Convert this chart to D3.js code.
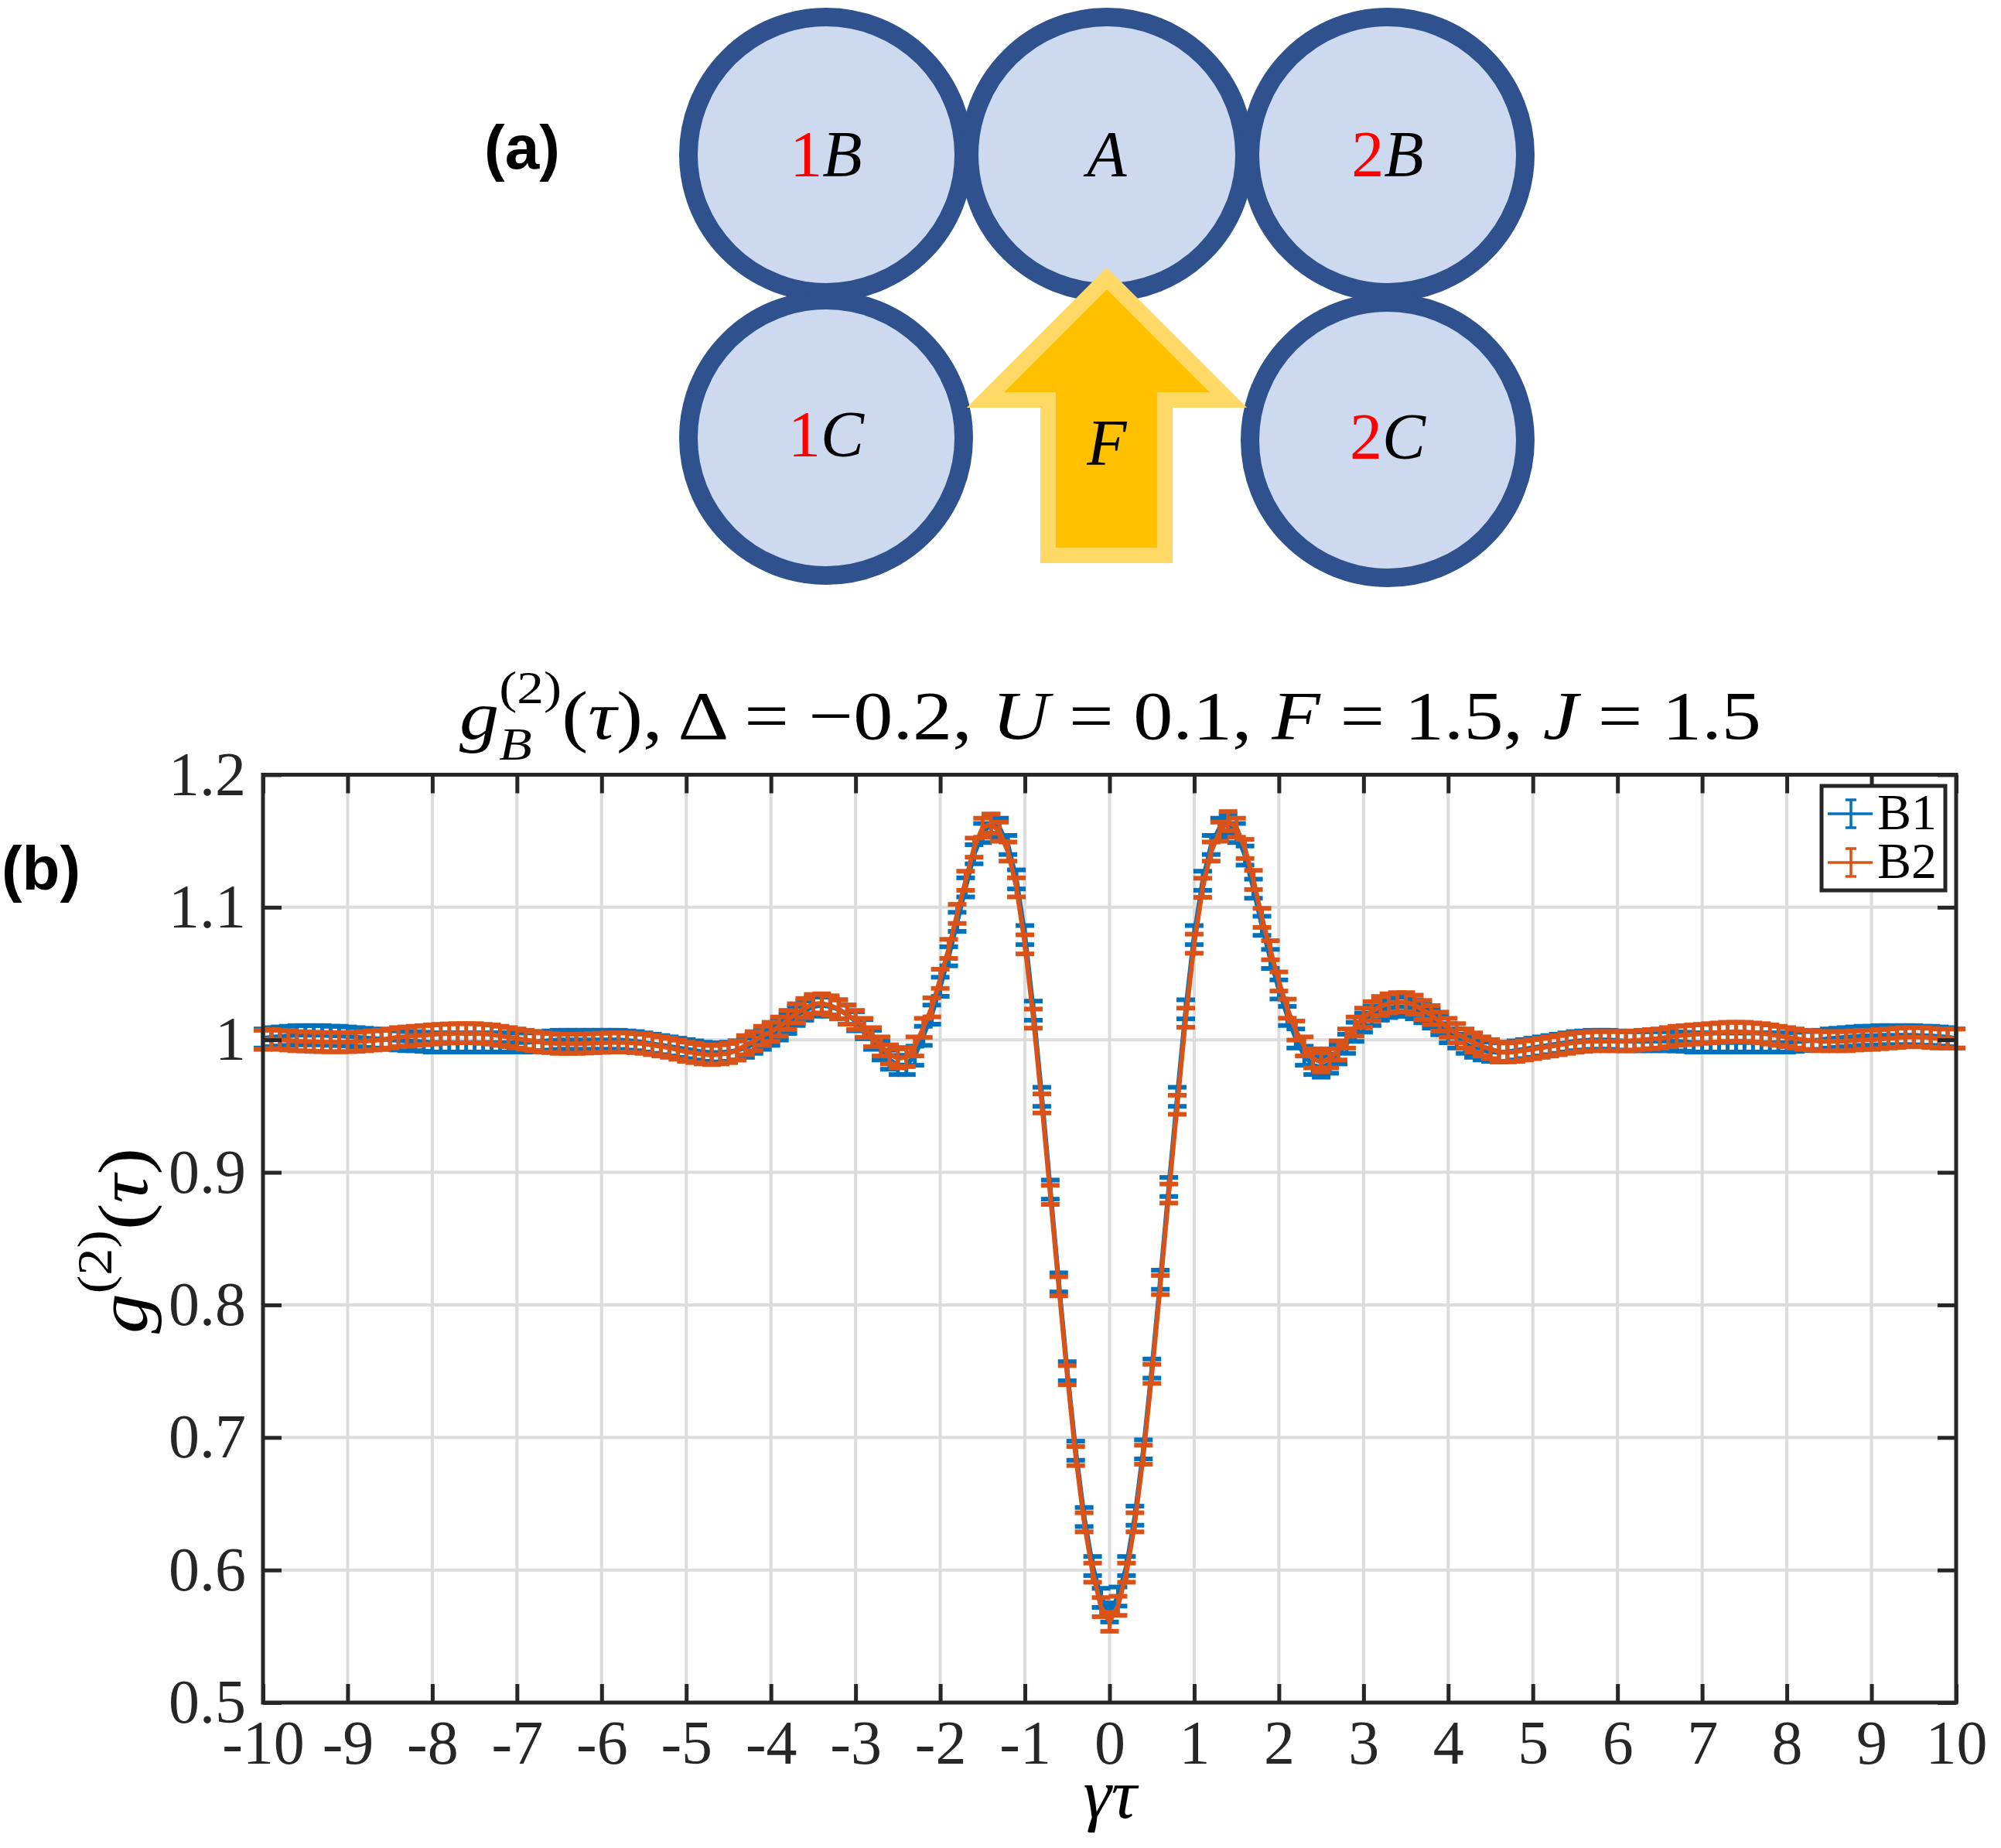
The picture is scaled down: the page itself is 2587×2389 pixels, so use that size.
<!DOCTYPE html>
<html><head><meta charset="utf-8">
<script src="https://cdn.jsdelivr.net/npm/d3@7"></script>
<style>html,body{margin:0;padding:0;background:#fff;} svg{display:block;}</style>
</head><body>
<svg id="fig" width="2587" height="2389"></svg>
<script>
// ---------------- data ----------------
const tauValues = d3.range(-100, 101).map(i => i / 10); // γτ from -10 to 10, step 0.1

const b1Values = [
  1.001, 1.002, 1.0025, 1.003, 1.0035, 1.0035, 1.0035, 1.0035, 1.003, 1.003,
  1.0025, 1.002, 1.0015, 1.001, 1.0005, 1.000, 0.9995, 0.999, 0.999, 0.9985,
  0.998, 0.998, 0.998, 0.998, 0.998, 0.998, 0.998, 0.998, 0.998, 0.998,
  0.998, 0.998, 0.9985, 0.999, 0.9995, 1.000, 1.000, 1.000, 1.000, 1.000,
  1.000, 1.000, 1.000, 0.9995, 0.999, 0.998, 0.997, 0.996, 0.995, 0.994,
  0.993, 0.992, 0.991, 0.9905, 0.9905, 0.991, 0.992, 0.994, 0.997, 1.000,
  1.003, 1.007, 1.012, 1.018, 1.022, 1.025, 1.026, 1.025, 1.023, 1.019,
  1.014, 1.008, 1.000, 0.992, 0.985, 0.981, 0.981, 0.988, 1.003, 1.019,
  1.040, 1.063, 1.089, 1.115, 1.140, 1.156, 1.163, 1.160, 1.147, 1.121,
  1.079, 1.022, 0.957, 0.887, 0.817, 0.750, 0.690, 0.640, 0.603, 0.579,
  0.568,
  0.580, 0.603, 0.641, 0.691, 0.752, 0.819, 0.889, 0.957, 1.023, 1.079,
  1.120, 1.147, 1.160, 1.163, 1.156, 1.139, 1.114, 1.086, 1.061, 1.038,
  1.018, 1.001, 0.988, 0.981, 0.979, 0.982, 0.989, 0.997, 1.006, 1.013,
  1.018, 1.022, 1.024, 1.025, 1.025, 1.023, 1.020, 1.016, 1.011, 1.005,
  1.001, 0.997, 0.994, 0.992, 0.991, 0.9905, 0.991, 0.992, 0.993, 0.994,
  0.995, 0.996, 0.997, 0.998, 0.999, 0.9995, 1.000, 1.000, 1.000, 0.9995,
  0.999, 0.999, 0.999, 0.999, 0.999, 0.999, 0.9988, 0.9985, 0.998, 0.998,
  0.998, 0.998, 0.998, 0.998, 0.998, 0.998, 0.998, 0.998, 0.998, 0.998,
  0.9985, 0.999, 0.9995, 1.000, 1.001, 1.0015, 1.002, 1.0025, 1.003, 1.003,
  1.0035, 1.0035, 1.0035, 1.0035, 1.0035, 1.003, 1.003, 1.0025, 1.002, 1.001
];

const b2Values = [
  1.000, 1.0005, 1.000, 0.9995, 0.999, 0.9988, 0.9985, 0.9983, 0.9982, 0.9982,
  0.9983, 0.9985, 0.999, 0.9995, 1.000, 1.001, 1.002, 1.0025, 1.003, 1.0035,
  1.004, 1.0045, 1.0048, 1.005, 1.005, 1.005, 1.0045, 1.004, 1.003, 1.002,
  1.001, 1.000, 0.999, 0.998, 0.9975, 0.997, 0.997, 0.997, 0.9972, 0.9975,
  0.9978, 0.998, 0.998, 0.998, 0.9975, 0.997, 0.996, 0.995, 0.994, 0.9925,
  0.991, 0.990, 0.989, 0.9885, 0.989, 0.990, 0.992, 0.996, 0.999, 1.003,
  1.006, 1.010, 1.015, 1.020, 1.024, 1.027, 1.0275, 1.026, 1.023, 1.019,
  1.015, 1.009, 1.002, 0.995, 0.989, 0.986, 0.987, 0.995, 1.009, 1.0245,
  1.046, 1.0686, 1.095, 1.120, 1.145, 1.160, 1.163, 1.157, 1.142, 1.115,
  1.072, 1.016, 0.952, 0.883, 0.814, 0.747, 0.686, 0.636, 0.598, 0.572,
  0.561,
  0.573, 0.598, 0.636, 0.687, 0.748, 0.815, 0.884, 0.951, 1.0167, 1.0725,
  1.1147, 1.142, 1.157, 1.165, 1.160, 1.144, 1.1206, 1.092, 1.0676, 1.044,
  1.0235, 1.007, 0.995, 0.986, 0.983, 0.986, 0.992, 1.001, 1.010, 1.0167,
  1.0216, 1.0255, 1.0275, 1.0284, 1.0284, 1.0265, 1.0225, 1.0186, 1.0137, 1.009,
  1.005, 1.001, 0.998, 0.995, 0.993, 0.991, 0.9905, 0.991, 0.992, 0.993,
  0.994, 0.995, 0.996, 0.997, 0.998, 0.9985, 0.999, 0.999, 0.999, 0.999,
  0.999, 0.9995, 1.000, 1.0005, 1.001, 1.002, 1.003, 1.0035, 1.004, 1.0045,
  1.005, 1.0055, 1.006, 1.006, 1.006, 1.0055, 1.005, 1.004, 1.003, 1.002,
  1.001, 1.000, 0.9995, 0.999, 0.999, 0.999, 0.999, 0.9995, 1.000, 1.000,
  1.0005, 1.001, 1.0015, 1.002, 1.002, 1.002, 1.0015, 1.001, 1.001, 1.001
];

const errB1 = 0.0072;   // error-bar half height
const errB2 = 0.0072;

const seriesNames = ["B1", "B2"];
const seriesColors = ["#0072BD", "#D95319"];

const xTickValues = d3.range(-10, 11);
const xTickLabels = xTickValues.map(String);
const yTickValues = [0.5, 0.6, 0.7, 0.8, 0.9, 1.0, 1.1, 1.2];
const yTickLabels = ["0.5", "0.6", "0.7", "0.8", "0.9", "1", "1.1", "1.2"];

const cavityPrefixes = ["1", "", "2", "1", "2"];
const cavityLetters  = ["B", "A", "B", "C", "C"];

// ---------------- layout ----------------
const svg = d3.select("#fig");
svg.append("rect").attr("width", 2587).attr("height", 2389).attr("fill", "#fff");

const SERIF = "'Liberation Serif', 'Times New Roman', serif";
const PL = 340, PR = 2529, PT = 1001.5, PB = 2201;
const x = d3.scaleLinear().domain([-10, 10]).range([PL, PR]);
const y = d3.scaleLinear().domain([0.5, 1.2]).range([PB, PT]);

// ---------- panel (a) diagram ----------
const diag = svg.append("g");
const cavityPos = [[1068, 200], [1431, 200], [1794, 200], [1068, 566], [1794, 569]];
const labelBase = [228, 228, 228, 590, 593];
const R = 178;
cavityPos.forEach(([cx, cy]) => {
  diag.append("circle").attr("cx", cx).attr("cy", cy).attr("r", R)
    .attr("fill", "#CDD9EF").attr("stroke", "#2F528F").attr("stroke-width", 24);
});
// pump arrow F
const arrowPts = [[1431, 360], [1588, 517], [1506, 517], [1506, 718], [1355, 718], [1355, 517], [1274, 517]];
diag.append("polygon").attr("points", arrowPts.map(p => p.join(",")).join(" "))
  .attr("fill", "#FFC000").attr("stroke", "#FFD966").attr("stroke-width", 20)
  .attr("stroke-linejoin", "miter");
cavityPos.forEach(([cx, cy], i) => {
  const t = diag.append("text").attr("x", cx).attr("y", labelBase[i])
    .attr("text-anchor", "middle").style("font-family", SERIF).style("font-size", "84px");
  if (cavityPrefixes[i]) t.append("tspan").attr("fill", "#FF0000").text(cavityPrefixes[i]);
  t.append("tspan").attr("fill", "#000").style("font-style", "italic").text(cavityLetters[i]);
});
diag.append("text").attr("x", 1431).attr("y", 601).attr("text-anchor", "middle")
  .style("font-family", SERIF).style("font-size", "84px").style("font-style", "italic").text("F");

// panel labels
svg.append("text").attr("x", 675).attr("y", 218).attr("text-anchor", "middle")
  .style("font-family", "'Liberation Sans', Arial, sans-serif").style("font-weight", "bold")
  .style("font-size", "80px").text("(a)");
svg.append("text").attr("x", 53).attr("y", 1150).attr("text-anchor", "middle")
  .style("font-family", "'Liberation Sans', Arial, sans-serif").style("font-weight", "bold")
  .style("font-size", "80px").text("(b)");

// ---------- math text helper ----------
function mathRow(g, pieces, fs) {
  let cx = 0, stackStart = 0, stackW = 0;
  pieces.forEach(p => {
    const size = fs * (p.s || 1);
    const t = g.append("text").attr("y", (p.dy || 0) * fs)
      .style("font-family", SERIF).style("font-size", size + "px")
      .style("font-style", p.it ? "italic" : "normal").attr("fill", "#000")
      .style("white-space", "pre").text(p.t);
    const w = t.node().getComputedTextLength();
    if (p.stack === "start") { stackStart = cx; stackW = w; t.attr("x", cx); cx += w; }
    else if (p.stack === "end") { t.attr("x", stackStart); cx = stackStart + Math.max(stackW, w); }
    else { t.attr("x", cx); cx += w; }
  });
  return cx;
}

// ---------- grid ----------
const grid = svg.append("g");
xTickValues.filter(v => v > -10 && v < 10).forEach(v => {
  grid.append("line").attr("x1", x(v)).attr("x2", x(v)).attr("y1", PT).attr("y2", PB)
    .attr("stroke", "#DCDCDC").attr("stroke-width", 4);
});
yTickValues.filter(v => v > 0.5 && v < 1.2).forEach(v => {
  grid.append("line").attr("x1", PL).attr("x2", PR).attr("y1", y(v)).attr("y2", y(v))
    .attr("stroke", "#DCDCDC").attr("stroke-width", 4);
});

// ---------- data ----------
const plot = svg.append("g");
const series = [
  {name: seriesNames[0], vals: b1Values, err: errB1, color: seriesColors[0]},
  {name: seriesNames[1], vals: b2Values, err: errB2, color: seriesColors[1]}
];
const capW = 24;
const line = d3.line().x(d => x(d[0])).y(d => y(d[1]));
series.forEach(s => {
  const pts = tauValues.map((t, i) => [t, s.vals[i]]);
  const g = plot.append("g");
  g.append("path").attr("d", line(pts)).attr("fill", "none")
    .attr("stroke", s.color).attr("stroke-width", 6).attr("stroke-linejoin", "round");
  const eb = g.selectAll("g.eb").data(pts).join("g");
  eb.append("line").attr("x1", d => x(d[0])).attr("x2", d => x(d[0]))
    .attr("y1", d => y(d[1] - s.err)).attr("y2", d => y(d[1] + s.err))
    .attr("stroke", s.color).attr("stroke-width", 5);
  [-1, 1].forEach(sg => {
    eb.append("line").attr("x1", d => x(d[0]) - capW / 2).attr("x2", d => x(d[0]) + capW / 2)
      .attr("y1", d => y(d[1] + sg * s.err)).attr("y2", d => y(d[1] + sg * s.err))
      .attr("stroke", s.color).attr("stroke-width", 6);
  });
});

// ---------- axes ----------
const axisColor = "#262626";
function styleAxis(g) {
  g.select(".domain").remove();
  g.selectAll(".tick line").attr("stroke", axisColor).attr("stroke-width", 5);
  g.selectAll(".tick text").style("font-family", SERIF).style("font-size", "80px").attr("fill", axisColor);
}
svg.append("g").attr("transform", `translate(0,${PB})`)
  .call(d3.axisBottom(x).tickValues(xTickValues).tickFormat((d, i) => xTickLabels[i])
    .tickSizeInner(-24).tickSizeOuter(0).tickPadding(22)).call(styleAxis);
svg.append("g").attr("transform", `translate(0,${PT})`)
  .call(d3.axisTop(x).tickValues(xTickValues).tickFormat("").tickSizeInner(-24).tickSizeOuter(0)).call(styleAxis);
svg.append("g").attr("transform", `translate(${PL},0)`)
  .call(d3.axisLeft(y).tickValues(yTickValues).tickFormat((d, i) => yTickLabels[i])
    .tickSizeInner(-24).tickSizeOuter(0).tickPadding(22)).call(styleAxis);
svg.append("g").attr("transform", `translate(${PR},0)`)
  .call(d3.axisRight(y).tickValues(yTickValues).tickFormat("").tickSizeInner(-24).tickSizeOuter(0)).call(styleAxis);
svg.append("rect").attr("x", PL).attr("y", PT).attr("width", PR - PL).attr("height", PB - PT)
  .attr("fill", "none").attr("stroke", axisColor).attr("stroke-width", 5);

// ---------- title ----------
const titleG = svg.append("g");
const titleInner = titleG.append("g");
const tw = mathRow(titleInner, [
  {t: "g", it: true},
  {t: "(2)", s: 0.68, dy: -0.52, stack: "start"},
  {t: "B", it: true, s: 0.68, dy: 0.31, stack: "end"},
  {t: "("}, {t: "τ", it: true}, {t: "), Δ = −0.2, "},
  {t: "U", it: true}, {t: " = 0.1, "},
  {t: "F", it: true}, {t: " = 1.5, "},
  {t: "J", it: true}, {t: " = 1.5"}
], 88);
titleG.attr("transform", `translate(594,955) scale(${1683 / tw},1)`);

// ---------- axis labels ----------
const yl = svg.append("g");
const yInner = yl.append("g");
const yw = mathRow(yInner, [
  {t: "g", it: true},
  {t: "(2)", s: 0.68, dy: -0.5},
  {t: "("}, {t: "τ", it: true}, {t: ")"}
], 92);
yInner.attr("transform", `translate(${-yw / 2},0) scale(${240 / yw},1)`);
yInner.attr("transform", `translate(-120,0) scale(${240 / yw},1)`);
yl.attr("transform", `translate(190,1604) rotate(-90)`);

const xl = svg.append("g");
const xInner = xl.append("g");
const xw = mathRow(xInner, [{t: "γτ", it: true}], 92);
xInner.attr("transform", `translate(${-xw / 2},0)`);
xl.attr("transform", `translate(1435,2350)`);

// ---------- legend ----------
const lg = svg.append("g");
lg.append("rect").attr("x", 2355).attr("y", 1016).attr("width", 160).attr("height", 135)
  .attr("fill", "#fff").attr("stroke", axisColor).attr("stroke-width", 5);
series.forEach((s, i) => {
  const ly = 1052 + i * 63;
  lg.append("line").attr("x1", 2363).attr("x2", 2421).attr("y1", ly).attr("y2", ly)
    .attr("stroke", s.color).attr("stroke-width", 3.5);
  lg.append("line").attr("x1", 2393).attr("x2", 2393).attr("y1", ly - 18).attr("y2", ly + 18)
    .attr("stroke", s.color).attr("stroke-width", 3.5);
  [-18, 18].forEach(o => lg.append("line").attr("x1", 2386).attr("x2", 2400)
    .attr("y1", ly + o).attr("y2", ly + o).attr("stroke", s.color).attr("stroke-width", 3.5));
  lg.append("text").attr("x", 2427).attr("y", ly + 20).style("font-family", SERIF)
    .style("font-size", "66px").attr("fill", "#000").text(s.name);
});
</script>
</body></html>
